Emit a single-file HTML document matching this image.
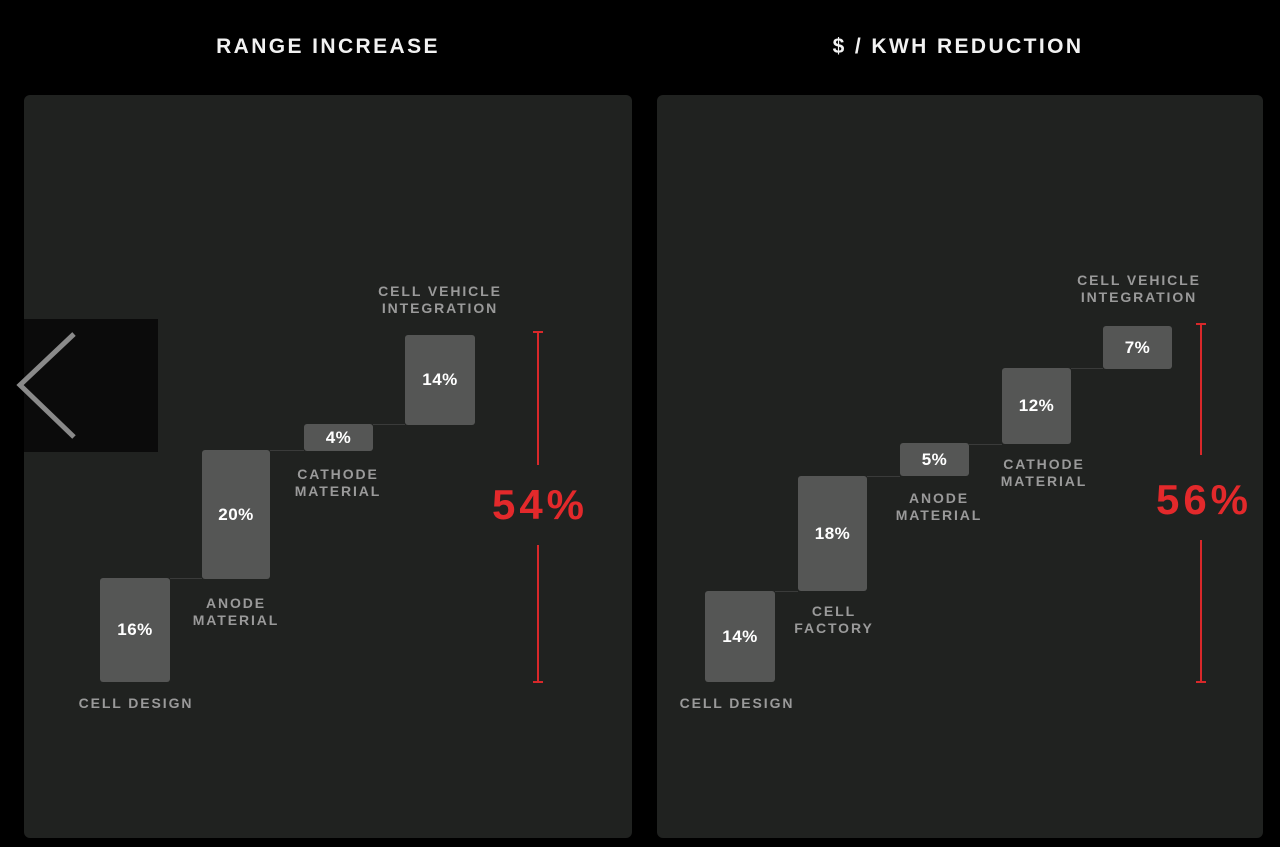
<!DOCTYPE html>
<html><head><meta charset="utf-8"><style>
*{margin:0;padding:0;box-sizing:border-box}
body{width:1280px;height:847px;background:#000;position:relative;overflow:hidden;font-family:"Liberation Sans",sans-serif;font-weight:bold}
.t{position:absolute;top:35px;color:#f2f2f2;font-size:21px;letter-spacing:2.4px;text-align:center;width:400px}
.p{position:absolute;top:95px;height:743px;background:#202220;border-radius:6px}
.b{position:absolute;background:#555655;border-radius:3px;color:#fff;font-size:17px;display:flex;align-items:center;justify-content:center;letter-spacing:0.5px}
.l{position:absolute;color:#9a9a9a;font-size:14px;letter-spacing:1.9px;text-align:center;width:200px;line-height:17px}
.c{position:absolute;height:1px;background:#3a3b3a}
.r{position:absolute;width:2px;background:#d8282a}
.rt{position:absolute;width:10px;height:2px;background:#d8282a}
.big{position:absolute;color:#e3292b;font-size:42px;letter-spacing:4px;text-align:center;width:160px}
</style></head><body>
<div class="t" style="left:128px">RANGE INCREASE</div>
<div class="t" style="left:758px">$ / KWH REDUCTION</div>
<div class="p" style="left:24px;width:608px"></div>
<div class="p" style="left:657px;width:606px"></div>

<!-- left -->
<div class="c" style="left:170px;top:578px;width:32px"></div>
<div class="c" style="left:270px;top:450px;width:34px"></div>
<div class="c" style="left:373px;top:424px;width:32px"></div>
<div class="b" style="left:100px;top:578px;width:70px;height:104px">16%</div>
<div class="b" style="left:202px;top:450px;width:68px;height:129px">20%</div>
<div class="b" style="left:304px;top:424px;width:69px;height:27px">4%</div>
<div class="b" style="left:405px;top:335px;width:70px;height:90px">14%</div>
<div class="l" style="left:340px;top:283px">CELL VEHICLE<br>INTEGRATION</div>
<div class="l" style="left:238px;top:466px">CATHODE<br>MATERIAL</div>
<div class="l" style="left:136px;top:595px">ANODE<br>MATERIAL</div>
<div class="l" style="left:36px;top:695px">CELL DESIGN</div>
<div class="r" style="left:537px;top:332px;height:133px"></div>
<div class="r" style="left:537px;top:545px;height:137px"></div>
<div class="rt" style="left:533px;top:331px"></div>
<div class="rt" style="left:533px;top:681px"></div>
<div class="big" style="left:460px;top:481px">54%</div>

<!-- right -->
<div class="c" style="left:775px;top:591px;width:23px"></div>
<div class="c" style="left:867px;top:476px;width:33px"></div>
<div class="c" style="left:969px;top:444px;width:33px"></div>
<div class="c" style="left:1071px;top:368px;width:32px"></div>
<div class="b" style="left:705px;top:591px;width:70px;height:91px">14%</div>
<div class="b" style="left:798px;top:476px;width:69px;height:115px">18%</div>
<div class="b" style="left:900px;top:443px;width:69px;height:33px">5%</div>
<div class="b" style="left:1002px;top:368px;width:69px;height:76px">12%</div>
<div class="b" style="left:1103px;top:326px;width:69px;height:43px">7%</div>
<div class="l" style="left:1039px;top:272px">CELL VEHICLE<br>INTEGRATION</div>
<div class="l" style="left:944px;top:456px">CATHODE<br>MATERIAL</div>
<div class="l" style="left:839px;top:490px">ANODE<br>MATERIAL</div>
<div class="l" style="left:734px;top:603px">CELL<br>FACTORY</div>
<div class="l" style="left:637px;top:695px">CELL DESIGN</div>
<div class="r" style="left:1200px;top:324px;height:131px"></div>
<div class="r" style="left:1200px;top:540px;height:142px"></div>
<div class="rt" style="left:1196px;top:323px"></div>
<div class="rt" style="left:1196px;top:681px"></div>
<div class="big" style="left:1124px;top:476px">56%</div>

<!-- nav overlay -->
<div style="position:absolute;left:24px;top:319px;width:134px;height:133px;background:#0b0b0b"></div>
<svg style="position:absolute;left:0;top:319px" width="160" height="133"><polyline points="74,15 20,66 74,118" fill="none" stroke="#8a8a8a" stroke-width="5"/></svg>
</body></html>
